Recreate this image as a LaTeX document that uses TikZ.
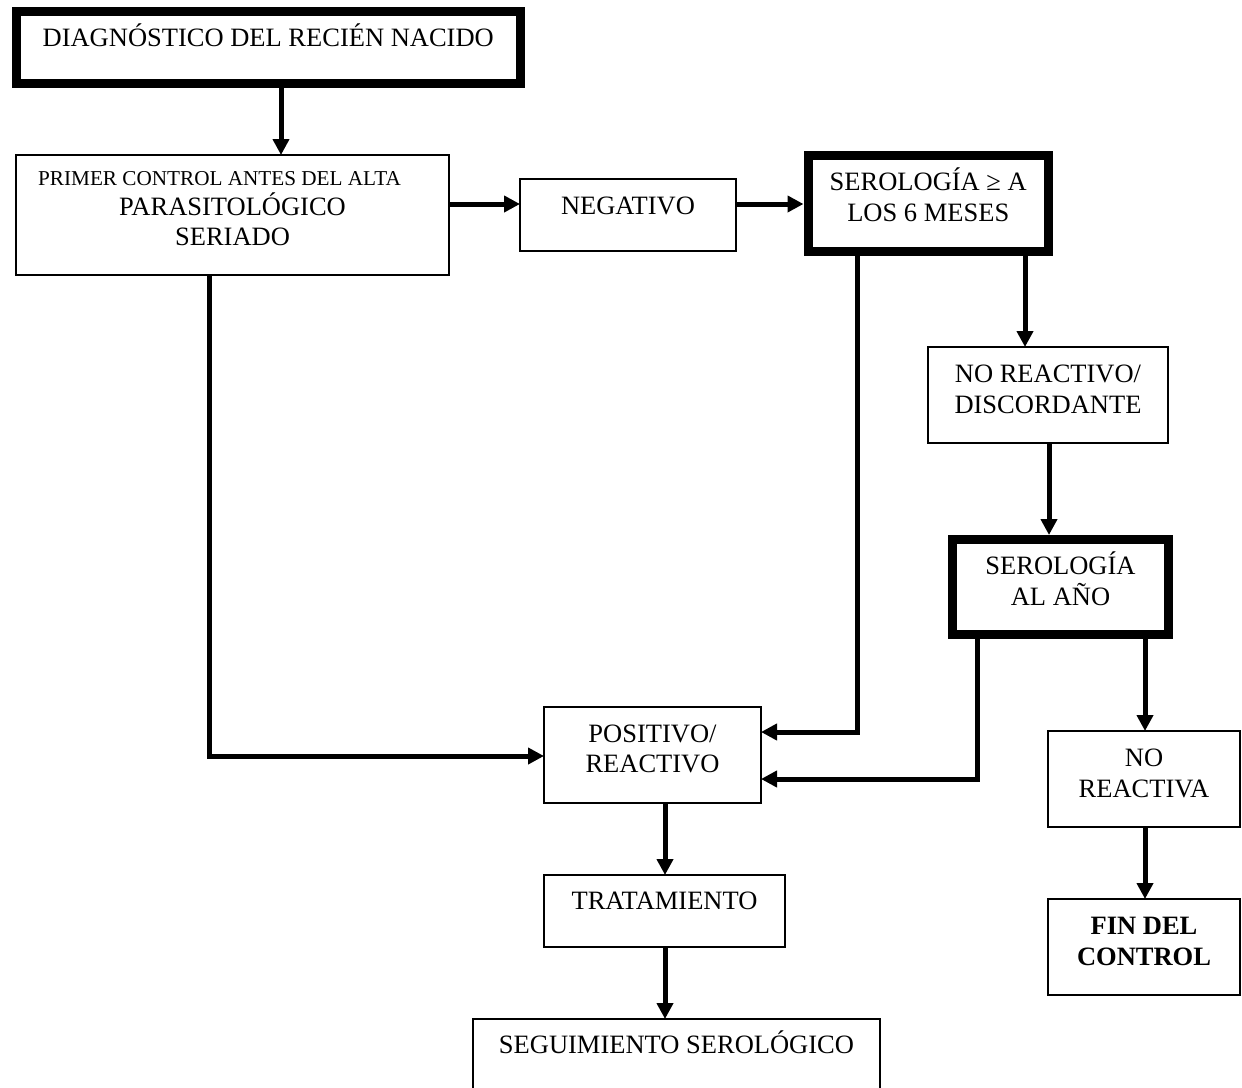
\documentclass[tikz,border=0pt]{standalone}
\usepackage{fontspec}
\setmainfont{Liberation Serif}
\usetikzlibrary{arrows.meta}
\begin{document}
\begin{tikzpicture}[x=1pt,y=-1pt,
  box/.style={draw, line width=2pt, rectangle, inner sep=0pt, outer sep=0pt},
  tbox/.style={draw, line width=9pt, rectangle, inner sep=0pt, outer sep=4.5pt},
  txt/.style={anchor=base, yshift=-35pt, align=center, inner sep=0pt, font=\fontsize{26.5}{31}\selectfont},
  ttxt/.style={txt, yshift=-4.5pt},
  twolines/.style={yshift=-31pt},
  arr/.style={line width=5pt, -{Triangle[length=16pt,width=16pt]}}]
\useasboundingbox (0,0) rectangle (1242,1087);
% boxes
\node[tbox, minimum width=503.5pt, minimum height=71.5pt,
  label={[ttxt, yshift=0.5pt]north:DIAGNÓSTICO DEL RECIÉN NACIDO}] (diag) at (268.25,47.25) {};
\node[box, minimum width=433pt, minimum height=120pt,
  label={[txt, yshift=-55pt, font=\fontsize{26.5}{30}\selectfont]north:{\fontsize{21.2}{30}\selectfont PRIMER CONTROL ANTES DEL ALTA\hspace*{26pt}}\\PARASITOLÓGICO\\SERIADO}] (primer) at (232.5,215) {};
\node[box, minimum width=216pt, minimum height=72pt,
  label={[txt]north:NEGATIVO}] (neg) at (628,215) {};
\node[tbox, minimum width=240.5pt, minimum height=96pt,
  label={[ttxt, twolines]north:SEROLOGÍA ≥ A\\LOS 6 MESES}] (sero6) at (928.25,203.5) {};
\node[box, minimum width=240pt, minimum height=96pt,
  label={[txt, twolines]north:NO REACTIVO/\\DISCORDANTE}] (noreac) at (1048,395) {};
\node[tbox, minimum width=216pt, minimum height=95pt,
  label={[ttxt, twolines]north:SEROLOGÍA\\AL AÑO}] (seroano) at (1060.5,587) {};
\node[box, minimum width=192pt, minimum height=96pt,
  label={[txt, twolines]north:NO\\REACTIVA}] (noreactiva) at (1144,779) {};
\node[box, minimum width=192pt, minimum height=96pt,
  label={[txt, twolines, font=\fontsize{26.5}{31}\selectfont\bfseries]north:FIN DEL\\CONTROL}] (fin) at (1144,947) {};
\node[box, minimum width=217pt, minimum height=96pt,
  label={[txt, yshift=-30pt, font=\fontsize{26.5}{30}\selectfont]north:POSITIVO/\\REACTIVO}] (pos) at (652.5,755) {};
\node[box, minimum width=241pt, minimum height=72pt,
  label={[txt, yshift=1pt]north:TRATAMIENTO}] (trat) at (664.5,911) {};
\node[box, minimum width=407pt, minimum height=76pt,
  label={[txt, yshift=1pt]north:SEGUIMIENTO SEROLÓGICO}] (seg) at (676.5,1057) {};
% helper coordinates
\coordinate (c209) at (209,0);
\coordinate (c281) at (281,0);
\coordinate (c665) at (665,0);
\coordinate (c857) at (857,0);
\coordinate (c977) at (977,0);
\coordinate (c1025) at (1025,0);
\coordinate (c1049) at (1049,0);
\coordinate (c1145) at (1145,0);
\coordinate (r204) at (0,204);
\coordinate (r732) at (0,732);
\coordinate (r756) at (0,756);
\coordinate (r779) at (0,779);
% connectors
\draw[arr] (diag.south -| c281) -- (primer.north -| c281);
\draw[arr] (primer.east |- r204) -- (neg.west |- r204);
\draw[arr] (neg.east |- r204) -- (sero6.west |- r204);
\draw[arr] (sero6.south -| c857) |- (pos.east |- r732);
\draw[arr] (sero6.south -| c1025) -- (noreac.north -| c1025);
\draw[arr] (noreac.south -| c1049) -- (seroano.north -| c1049);
\draw[arr] (seroano.south -| c977) |- (pos.east |- r779);
\draw[arr] (seroano.south -| c1145) -- (noreactiva.north -| c1145);
\draw[arr] (noreactiva.south -| c1145) -- (fin.north -| c1145);
\draw[arr] (primer.south -| c209) |- (pos.west |- r756);
\draw[arr] (pos.south -| c665) -- (trat.north -| c665);
\draw[arr] (trat.south -| c665) -- (seg.north -| c665);
\end{tikzpicture}
\end{document}
